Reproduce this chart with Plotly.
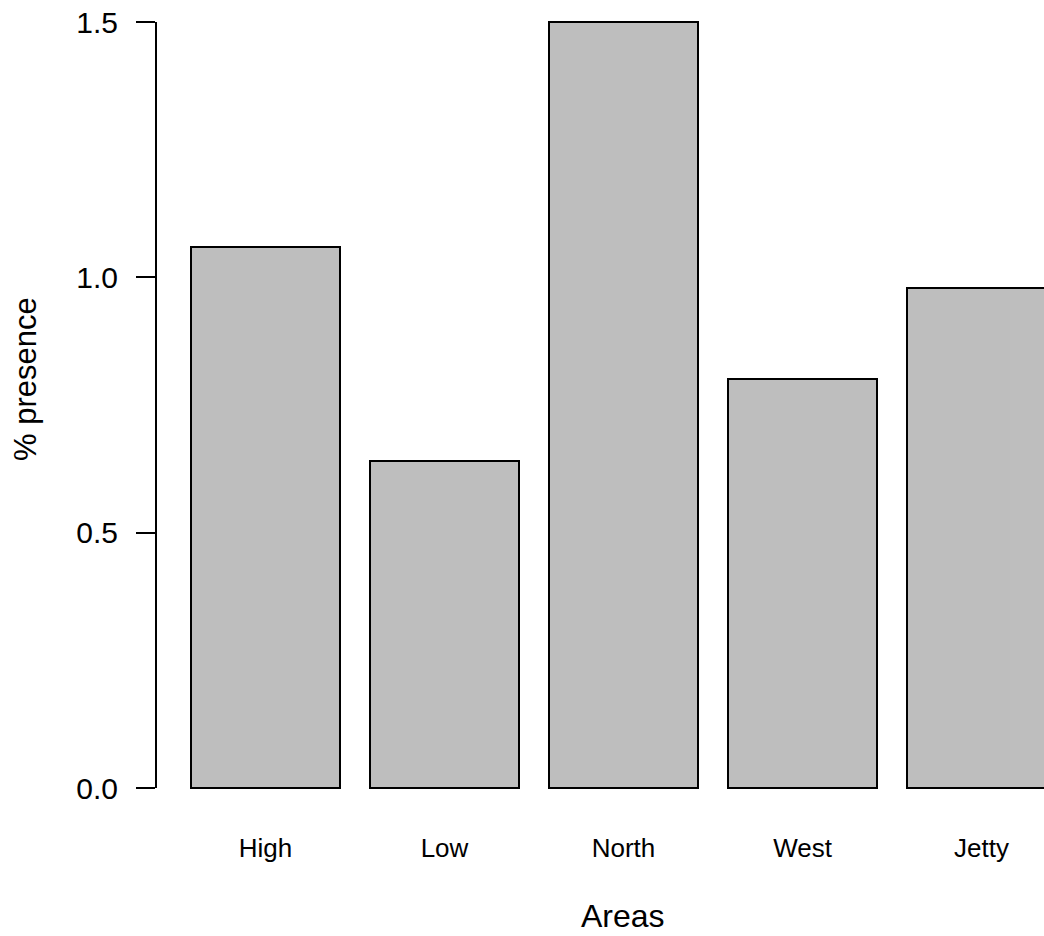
import plotly.graph_objects as go

categories = ["High", "Low", "North", "West", "Jetty"]
presence = [1.06, 0.64, 1.50, 0.80, 0.98]
y_ticks = [0.0, 0.5, 1.0, 1.5]
y_tick_labels = ["0.0", "0.5", "1.0", "1.5"]

# R barplot convention: width 1, space 0.2
centers = [0.7 + 1.2 * i for i in range(len(categories))]

FONT = "Liberation Sans, Arial, Helvetica, sans-serif"

W, H = 1044, 936
L, T = 156, 12
PW = W - L
PH = 788
B = H - T - PH
R = 0

px_per_unit_x = 179 / 1.2
x0_px = 265.5 - 0.7 * px_per_unit_x - L
x_lo = -x0_px / px_per_unit_x
x_hi = x_lo + PW / px_per_unit_x

px_per_unit_y = 766 / 1.5
zero_px = 788  # figure pixel of y=0
y_lo = -((T + PH) - zero_px) / px_per_unit_y
y_hi = y_lo + PH / px_per_unit_y

fig = go.Figure()
fig.add_trace(go.Bar(
    x=centers, y=presence, width=1.0,
    marker=dict(color="#BEBEBE", line=dict(color="black", width=2)),
    showlegend=False, hoverinfo="skip",
))

fig.update_layout(
    width=W, height=H,
    margin=dict(l=L, r=R, t=T, b=B, autoexpand=False),
    paper_bgcolor="white", plot_bgcolor="white",
    font=dict(family=FONT, color="black"),
    bargap=0,
    xaxis=dict(
        range=[x_lo, x_hi], tickvals=centers, ticktext=categories,
        ticks="", showline=False, showgrid=False, zeroline=False,
        tickfont=dict(size=26, family=FONT), ticklabelstandoff=30,
        automargin=False,
    ),
    yaxis=dict(
        range=[y_lo, y_hi], tickvals=y_ticks, ticktext=y_tick_labels,
        ticks="outside", ticklen=19, tickwidth=2, tickcolor="black",
        showline=False, showgrid=False, zeroline=False,
        tickfont=dict(size=30, family=FONT), ticklabelstandoff=12,
        ticklabeloverflow="allow",
        automargin=False,
    ),
)

fig.add_shape(type="line", xref="paper", yref="y", x0=0, x1=0,
              y0=y_ticks[0], y1=y_ticks[-1], line=dict(color="black", width=2))

# axis titles (positioned like R's mtext)
fig.add_annotation(
    text="% presence", textangle=-90, showarrow=False,
    xref="paper", yref="paper",
    x=(25 - L) / PW, y=1 - (379 - T) / PH,
    xanchor="center", yanchor="middle",
    font=dict(size=31, family=FONT, color="black"),
)
fig.add_annotation(
    text="Areas", showarrow=False,
    xref="paper", yref="paper",
    x=(623 - L) / PW, y=-(916 - (T + PH)) / PH,
    xanchor="center", yanchor="middle",
    font=dict(size=32, family=FONT, color="black"),
)

fig.write_html(
    "out.html",
    config={"displayModeBar": False},
    post_script="document.body.style.margin='0';document.documentElement.style.overflow='hidden';",
)
